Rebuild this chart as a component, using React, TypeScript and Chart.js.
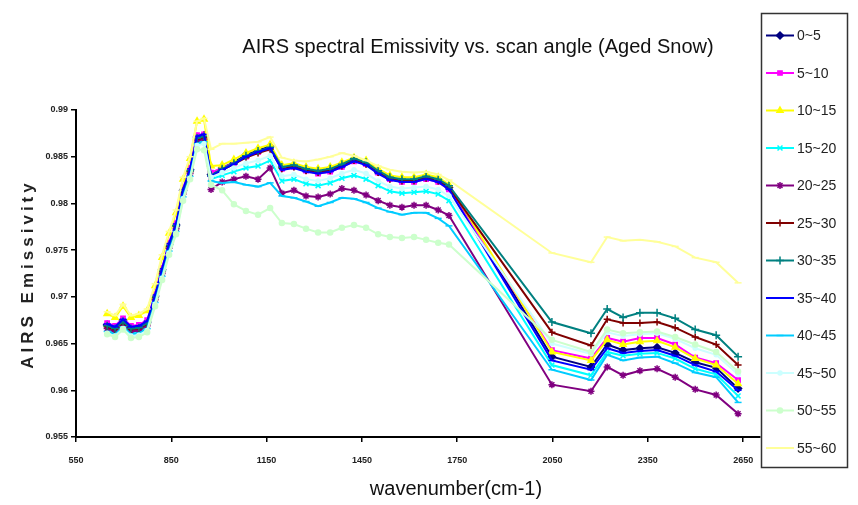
import React, { useEffect, useRef } from 'react';
import { Chart, registerables } from 'chart.js';
import { drawPoint } from 'chart.js/helpers';

Chart.register(...registerables);

const chartTitle = 'AIRS spectral Emissivity vs. scan angle (Aged Snow)';
const xAxisTitle = 'wavenumber(cm-1)';
const yAxisTitle = 'AIRS Emissivity';

const xTickValues = [550, 850, 1150, 1450, 1750, 2050, 2350, 2650];
const yTickValues = [0.955, 0.96, 0.965, 0.97, 0.975, 0.98, 0.985, 0.99];

const wavenumbers = [
  648, 673, 698, 723, 748, 774, 799, 821, 843, 865, 887, 909, 931, 953, 975,
  1010, 1047, 1085, 1123, 1161, 1198, 1236, 1274, 1312, 1350, 1387, 1425, 1463, 1501, 1538, 1576, 1614, 1652, 1690, 1724,
  2048, 2171, 2222, 2272, 2325, 2379, 2436, 2499, 2565, 2634,
];

const angle0_5 = [
  0.9670, 0.9667, 0.9675, 0.9667, 0.9668, 0.9673, 0.9701, 0.9729, 0.9756, 0.9777, 0.9814, 0.9836, 0.9871, 0.9873, 0.9831,
  0.9838, 0.9844, 0.9852, 0.9857, 0.9861, 0.9838, 0.9840, 0.9836, 0.9834, 0.9836, 0.9841, 0.9847, 0.9843, 0.9834, 0.9827, 0.9825, 0.9825, 0.9828, 0.9825, 0.9817,
  0.9636, 0.9625, 0.9649, 0.9643, 0.9645, 0.9646, 0.9640, 0.9630, 0.9624, 0.9602,
];
const angle5_10 = [
  0.9672, 0.9669, 0.9677, 0.9669, 0.9670, 0.9675, 0.9703, 0.9731, 0.9758, 0.9779, 0.9816, 0.9838, 0.9873, 0.9874, 0.9833,
  0.9838, 0.9843, 0.9850, 0.9855, 0.9859, 0.9837, 0.9839, 0.9835, 0.9832, 0.9834, 0.9839, 0.9845, 0.9842, 0.9833, 0.9826, 0.9823, 0.9823, 0.9826, 0.9823, 0.9815,
  0.9643, 0.9634, 0.9656, 0.9652, 0.9656, 0.9656, 0.9649, 0.9635, 0.9629, 0.9611,
];
const angle10_15 = [
  0.9682, 0.9678, 0.9690, 0.9678, 0.9680, 0.9685, 0.9712, 0.9742, 0.9768, 0.9790, 0.9826, 0.9848, 0.9888, 0.9890, 0.9840,
  0.9841, 0.9847, 0.9854, 0.9859, 0.9863, 0.9841, 0.9843, 0.9839, 0.9837, 0.9839, 0.9844, 0.9849, 0.9846, 0.9837, 0.9830, 0.9828, 0.9828, 0.9831, 0.9828, 0.9820,
  0.9641, 0.9632, 0.9654, 0.9649, 0.9652, 0.9653, 0.9646, 0.9634, 0.9627, 0.9607,
];
const angle15_20 = [
  0.9665, 0.9662, 0.9670, 0.9662, 0.9663, 0.9668, 0.9696, 0.9724, 0.9751, 0.9772, 0.9809, 0.9831, 0.9866, 0.9868, 0.9826,
  0.9830, 0.9834, 0.9838, 0.9840, 0.9846, 0.9824, 0.9826, 0.9821, 0.9819, 0.9822, 0.9827, 0.9830, 0.9826, 0.9819, 0.9813, 0.9811, 0.9812, 0.9813, 0.9810, 0.9803,
  0.9627, 0.9616, 0.9641, 0.9637, 0.9639, 0.9640, 0.9634, 0.9623, 0.9617, 0.9594,
];
const angle20_25 = [
  0.9666, 0.9663, 0.9671, 0.9663, 0.9664, 0.9669, 0.9697, 0.9725, 0.9752, 0.9773, 0.9810, 0.9832, 0.9867, 0.9869, 0.9815,
  0.9823, 0.9826, 0.9829, 0.9826, 0.9838, 0.9811, 0.9814, 0.9808, 0.9807, 0.9810, 0.9816, 0.9814, 0.9809, 0.9803, 0.9798, 0.9796, 0.9798, 0.9798, 0.9793, 0.9787,
  0.9606, 0.9599, 0.9625, 0.9616, 0.9621, 0.9623, 0.9614, 0.9601, 0.9595, 0.9575,
];
const angle25_30 = [
  0.9668, 0.9665, 0.9673, 0.9665, 0.9666, 0.9671, 0.9699, 0.9727, 0.9754, 0.9775, 0.9812, 0.9834, 0.9869, 0.9871, 0.9829,
  0.9836, 0.9842, 0.9849, 0.9854, 0.9858, 0.9837, 0.9839, 0.9835, 0.9833, 0.9835, 0.9840, 0.9846, 0.9842, 0.9833, 0.9826, 0.9824, 0.9824, 0.9827, 0.9824, 0.9817,
  0.9662, 0.9648, 0.9676, 0.9672, 0.9672, 0.9673, 0.9667, 0.9657, 0.9649, 0.9627,
];
const angle30_35 = [
  0.9669, 0.9666, 0.9674, 0.9666, 0.9667, 0.9672, 0.9700, 0.9728, 0.9755, 0.9776, 0.9813, 0.9835, 0.9870, 0.9872, 0.9830,
  0.9837, 0.9843, 0.9851, 0.9856, 0.9860, 0.9839, 0.9841, 0.9837, 0.9835, 0.9837, 0.9842, 0.9848, 0.9844, 0.9835, 0.9828, 0.9826, 0.9826, 0.9829, 0.9826, 0.9819,
  0.9673, 0.9661, 0.9687, 0.9678, 0.9683, 0.9683, 0.9677, 0.9665, 0.9659, 0.9636,
];
const angle35_40 = [
  0.9671, 0.9668, 0.9676, 0.9668, 0.9669, 0.9674, 0.9702, 0.9730, 0.9757, 0.9778, 0.9815, 0.9837, 0.9872, 0.9874, 0.9829,
  0.9836, 0.9842, 0.9850, 0.9855, 0.9859, 0.9836, 0.9838, 0.9834, 0.9832, 0.9834, 0.9839, 0.9845, 0.9841, 0.9832, 0.9825, 0.9823, 0.9823, 0.9826, 0.9823, 0.9815,
  0.9632, 0.9622, 0.9645, 0.9640, 0.9642, 0.9643, 0.9637, 0.9627, 0.9620, 0.9600,
];
const angle40_45 = [
  0.9663, 0.9660, 0.9668, 0.9660, 0.9661, 0.9666, 0.9694, 0.9722, 0.9749, 0.9770, 0.9807, 0.9829, 0.9864, 0.9866, 0.9824,
  0.9822, 0.9823, 0.9820, 0.9818, 0.9822, 0.9808, 0.9806, 0.9802, 0.9797, 0.9801, 0.9806, 0.9805, 0.9801, 0.9795, 0.9791, 0.9788, 0.9790, 0.9790, 0.9784, 0.9776,
  0.9622, 0.9611, 0.9638, 0.9632, 0.9635, 0.9636, 0.9629, 0.9619, 0.9614, 0.9587,
];
const angle45_50 = [
  0.9661, 0.9658, 0.9666, 0.9658, 0.9659, 0.9664, 0.9692, 0.9720, 0.9747, 0.9768, 0.9805, 0.9827, 0.9862, 0.9864, 0.9828,
  0.9833, 0.9838, 0.9843, 0.9846, 0.9851, 0.9829, 0.9831, 0.9826, 0.9824, 0.9827, 0.9832, 0.9836, 0.9832, 0.9824, 0.9818, 0.9816, 0.9817, 0.9818, 0.9815, 0.9808,
  0.9650, 0.9639, 0.9662, 0.9658, 0.9660, 0.9661, 0.9655, 0.9645, 0.9638, 0.9617,
];
const angle50_55 = [
  0.9660, 0.9657, 0.9665, 0.9656, 0.9657, 0.9662, 0.9690, 0.9718, 0.9745, 0.9767, 0.9803, 0.9826, 0.9858, 0.9857, 0.9820,
  0.9814, 0.9799, 0.9792, 0.9788, 0.9795, 0.9779, 0.9778, 0.9773, 0.9769, 0.9769, 0.9774, 0.9777, 0.9774, 0.9767, 0.9764, 0.9763, 0.9764, 0.9761, 0.9758, 0.9756,
  0.9654, 0.9641, 0.9665, 0.9661, 0.9662, 0.9663, 0.9657, 0.9649, 0.9641, 0.9620,
];
const angle55_60 = [
  0.9684, 0.9680, 0.9692, 0.9680, 0.9682, 0.9687, 0.9714, 0.9745, 0.9770, 0.9793, 0.9828, 0.9850, 0.9888, 0.9891, 0.9858,
  0.9864, 0.9864, 0.9865, 0.9866, 0.9871, 0.9849, 0.9846, 0.9845, 0.9847, 0.9850, 0.9854, 0.9851, 0.9846, 0.9840, 0.9836, 0.9834, 0.9833, 0.9834, 0.9831, 0.9825,
  0.9747, 0.9737, 0.9764, 0.9760, 0.9761, 0.9759, 0.9754, 0.9742, 0.9737, 0.9715,
];

const seriesLabels = ['0~5', '5~10', '10~15', '15~20', '20~25', '25~30', '30~35', '35~40', '40~45', '45~50', '50~55', '55~60'];
const seriesValues = [angle0_5, angle5_10, angle10_15, angle15_20, angle20_25, angle25_30, angle30_35, angle35_40, angle40_45, angle45_50, angle50_55, angle55_60];
const seriesColors = ['#000080', '#ff00ff', '#ffff00', '#00ffff', '#800080', '#800000', '#008080', '#0000ff', '#00ccff', '#ccffff', '#ccffcc', '#ffff99'];
const seriesMarkers = ['rectRot', 'rect', 'triangle', 'crossRot', 'star', 'cross', 'cross', 'line', 'line', 'circle', 'circle', 'line'];
const seriesMarkerSizes = [3.5, 3, 3.5, 3.5, 3.5, 3.5, 4, 3.5, 3.5, 2, 2.5, 3.5];

const FONT = '"Liberation Sans", Arial, Helvetica, sans-serif';

const overlayPlugin = {
  id: 'overlay',
  afterDraw(chart: any) {
    const ctx = chart.ctx as CanvasRenderingContext2D;
    ctx.save();
    ctx.fillStyle = '#111';
    ctx.textBaseline = 'middle';
    ctx.textAlign = 'center';
    ctx.font = `20px ${FONT}`;
    ctx.fillText(chartTitle, 478, 47);
    ctx.font = `20px ${FONT}`;
    ctx.fillText(xAxisTitle, 456, 489);
    ctx.save();
    ctx.translate(28, 276);
    ctx.rotate(-Math.PI / 2);
    (ctx as any).letterSpacing = '4px';
    ctx.font = `bold 17px ${FONT}`;
    ctx.fillStyle = '#222';
    ctx.fillText(yAxisTitle, 2, 0);
    ctx.restore();

    // legend box
    ctx.strokeStyle = '#333';
    ctx.lineWidth = 1.5;
    ctx.strokeRect(761.5, 13.5, 86, 454);
    const metas = chart.data.datasets;
    metas.forEach((ds: any, i: number) => {
      const y = 35.5 + 37.5 * i;
      ctx.strokeStyle = ds.borderColor;
      ctx.lineWidth = 2;
      ctx.beginPath();
      ctx.moveTo(766, y);
      ctx.lineTo(794, y);
      ctx.stroke();
      ctx.fillStyle = ds.borderColor;
      ctx.strokeStyle = ds.borderColor;
      ctx.lineWidth = ds.pointBorderWidth;
      drawPoint(ctx, { pointStyle: ds.pointStyle, radius: ds.pointRadius, borderWidth: ds.pointBorderWidth, rotation: 0 } as any, 780, y);
      ctx.fillStyle = '#222';
      ctx.textAlign = 'left';
      ctx.font = `14px ${FONT}`;
      ctx.fillText(seriesLabels[i], 797, y + 1);
    });
    ctx.restore();
  },
};

export default function App() {
  const canvasRef = useRef<HTMLCanvasElement | null>(null);

  useEffect(() => {
    if (!canvasRef.current) return;
    Chart.defaults.font.family = FONT;
    const datasets = seriesValues.map((vals, i) => ({
      label: seriesLabels[i],
      data: wavenumbers.map((x, j) => ({ x, y: vals[j] })),
      borderColor: seriesColors[i],
      backgroundColor: seriesColors[i],
      borderWidth: 2,
      pointStyle: seriesMarkers[i],
      pointRadius: seriesMarkerSizes[i],
      pointBorderWidth: 1.5,
      pointBackgroundColor: seriesColors[i],
      pointBorderColor: seriesColors[i],
      tension: 0,
      order: seriesLabels.length - i,
    }));
    const chart = new Chart(canvasRef.current, {
      type: 'line',
      data: { datasets },
      options: {
        responsive: false,
        animation: false,
        devicePixelRatio: 1,
        layout: { padding: { top: 110, right: 98, left: 0, bottom: 0 } },
        plugins: { legend: { display: false }, title: { display: false }, tooltip: { enabled: false } },
        scales: {
          x: {
            type: 'linear',
            min: 550,
            max: 2703,
            afterBuildTicks: (s: any) => {
              s.ticks = xTickValues.map((v) => ({ value: v }));
            },
            afterFit: (s: any) => {
              s.height = 68;
            },
            ticks: {
              autoSkip: false,
              maxRotation: 0,
              padding: 13,
              color: '#222',
              font: { size: 9, weight: 'bold' },
              callback: (v: any) => String(v),
            },
            grid: { drawOnChartArea: false, drawTicks: true, tickLength: 5, color: '#000', lineWidth: 1.5 },
            border: { display: true, color: '#000', width: 2 },
          },
          y: {
            type: 'linear',
            min: 0.955,
            max: 0.99,
            afterBuildTicks: (s: any) => {
              s.ticks = yTickValues.map((v) => ({ value: v }));
            },
            afterFit: (s: any) => {
              s.width = 76;
            },
            ticks: {
              padding: 3,
              color: '#222',
              font: { size: 9, weight: 'bold' },
              callback: (v: any) => String(Number(Number(v).toFixed(3))),
            },
            grid: { drawOnChartArea: false, drawTicks: true, tickLength: 5, color: '#000', lineWidth: 1.5 },
            border: { display: true, color: '#000', width: 2 },
          },
        },
      },
      plugins: [overlayPlugin],
    } as any);
    return () => chart.destroy();
  }, []);

  return (
    <div style={{ position: 'fixed', left: 0, top: 0, width: 858, height: 505, background: '#fff' }}>
      <canvas ref={canvasRef} width={858} height={505} />
    </div>
  );
}
